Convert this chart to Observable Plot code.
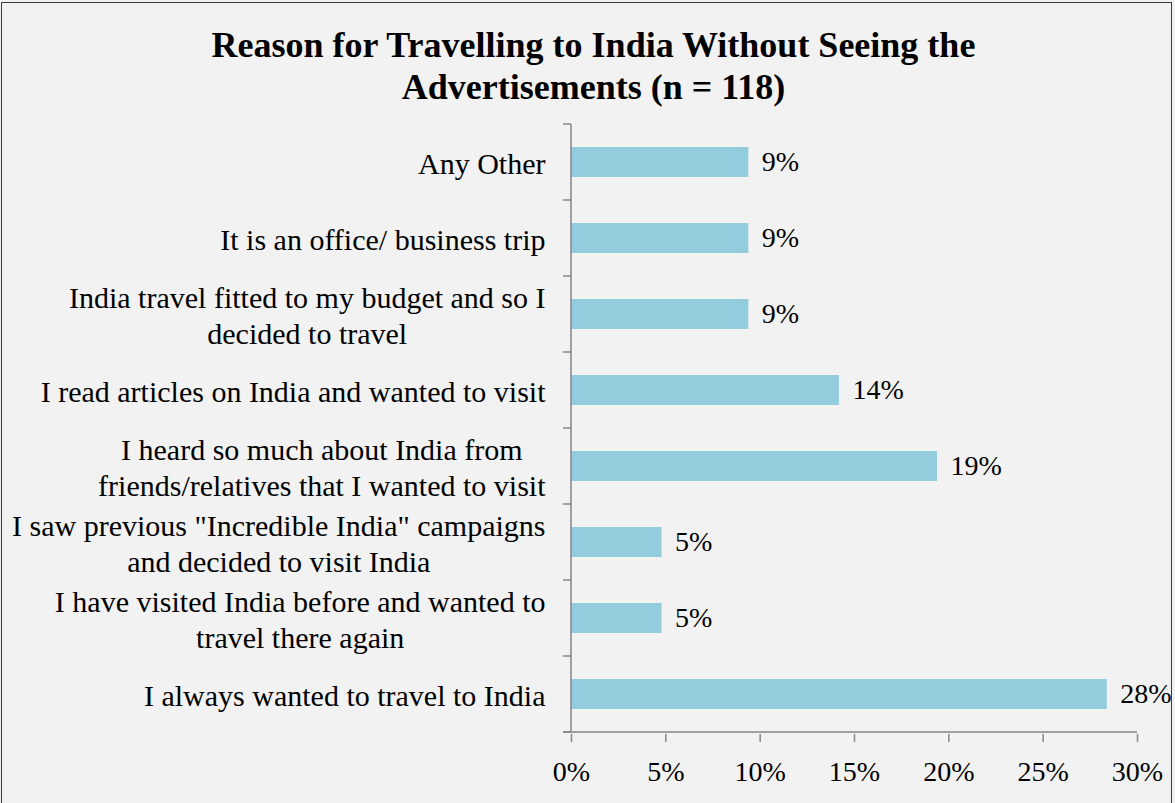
<!DOCTYPE html>
<html>
<head>
<meta charset="utf-8">
<script src="https://cdn.jsdelivr.net/npm/d3@7"></script>
<script src="https://cdn.jsdelivr.net/npm/@observablehq/plot@0.6"></script>
<style>
  html, body { margin: 0; padding: 0; background: #f2f2f2; overflow: hidden; }
  #chart { position: relative; width: 1175px; height: 803px; background: #f2f2f2;
           font-family: "Liberation Serif", "Times New Roman", serif; }
  #frame { position: absolute; left: 1px; top: 2px; width: 1171px; height: 830px;
           border: 1.5px solid #3a3a3a; box-sizing: border-box; pointer-events: none; }
  #title { position: absolute; left: 6px; top: 24px; width: 1175px; text-align: center;
           font-weight: bold; font-size: 36px; line-height: 42px; color: #000; }
  #plot { position: absolute; left: 0; top: 115px; }
</style>
</head>
<body>
<div id="chart">
  <div id="title">Reason for Travelling to India Without Seeing the<br>Advertisements (n = 118)</div>
  <div id="plot"></div>
  <div id="frame"></div>
</div>
<script>
// Survey answers, top to bottom as drawn
const reasons = [
  "Any Other",
  "It is an office/ business trip",
  "India travel fitted to my budget and so I\ndecided to travel",
  "I read articles on India and wanted to visit",
  "I heard so much about India from\nfriends/relatives that I wanted to visit",
  "I saw previous \"Incredible India\" campaigns\nand decided to visit India",
  "I have visited India before and wanted to\ntravel there again",
  "I always wanted to travel to India"
];
// Share of respondents (%), labelled rounded to whole percent
const shares = [9.4, 9.4, 9.4, 14.2, 19.4, 4.8, 4.8, 28.4];
const xTicks = [0, 5, 10, 15, 20, 25, 30];

const rows = reasons.map((reason, i) => ({reason, share: shares[i]}));

const serif = '"Liberation Serif", "Times New Roman", serif';
const catSize = 30;
const numSize = 28;
const axisGray = "#868686";
const barFill = "#93cddd";

// measure category lines so wrapped labels can be centred as a block
const ctx = document.createElement("canvas").getContext("2d");
ctx.font = `${catSize}px "Liberation Serif"`;
const widest = s => d3.max(s.split("\n"), l => ctx.measureText(l).width);
const labelGap = 26;

const categoryLabels = reasons.map(r => {
  const multi = r.includes("\n");
  return Plot.text([r], {
    y: d => d,
    frameAnchor: "left",
    text: d => d,
    textAnchor: multi ? "middle" : "end",
    dx: multi ? -(labelGap + widest(r) / 2) : -labelGap,
    fontSize: catSize,
    lineHeight: 1.2,
    fill: "#000"
  });
});

// vertical axis line with ticks on the category boundaries, plus the baseline
function categoryAxis(index, scales) {
  const {x, y} = scales;
  const x0 = x(0);
  const half = (y.step() - y.bandwidth()) / 2;
  const dom = y.domain();
  const bounds = dom.map(d => y(d) - half);
  const bottom = y(dom[dom.length - 1]) + y.bandwidth() + half;
  bounds.push(bottom);
  const g = d3.create("svg:g")
    .attr("stroke", axisGray)
    .attr("stroke-width", 1.5)
    .attr("fill", "none");
  g.append("line").attr("x1", x0).attr("x2", x0).attr("y1", bounds[0]).attr("y2", bottom);
  g.append("line").attr("x1", x0 - 8).attr("x2", x(30)).attr("y1", bottom).attr("y2", bottom);
  for (const b of bounds) {
    g.append("line").attr("x1", x0 - 8).attr("x2", x0).attr("y1", b).attr("y2", b);
  }
  return g.node();
}

const chart = Plot.plot({
  width: 1175,
  height: 688,
  marginTop: 8,
  marginBottom: 69,
  marginLeft: 571,
  marginRight: 38,
  style: {background: "transparent", fontFamily: serif, color: "#000"},
  x: {domain: [0, 30]},
  y: {domain: reasons, paddingInner: 0.6, paddingOuter: 0.3, axis: null},
  marks: [
    Plot.barX(rows, {x: "share", y: "reason", fill: barFill}),
    Plot.text(rows, {
      x: "share", y: "reason",
      text: d => `${Math.round(d.share)}%`,
      textAnchor: "start", dx: 13,
      fontSize: numSize, fill: "#000"
    }),
    Plot.axisX(xTicks, {
      tickFormat: d => `${d}%`,
      tickSize: 8,
      tickPadding: 19,
      fontSize: numSize,
      stroke: axisGray,
      strokeWidth: 1.5,
      fill: "#000",
      label: null
    }),
    categoryAxis,
    ...categoryLabels
  ]
});

document.getElementById("plot").appendChild(chart);
</script>
</body>
</html>
